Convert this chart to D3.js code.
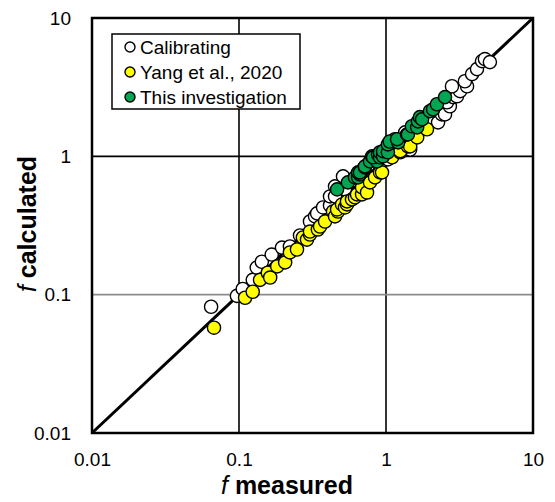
<!DOCTYPE html>
<html lang="en">
<head>
  <meta charset="UTF-8">
  <title>f calculated vs f measured</title>
  <script src="https://d3js.org/d3.v7.min.js"></script>
  <style>
    body { margin: 0; background: #fff; }
    text { font-family: "Liberation Sans", Arial, sans-serif; fill: #000; }
    .tick text { font-size: 19px; }
    .domain { display: none; }
  </style>
</head>
<body>
<div id="chart"></div>
<script>
  // tick values on both axes
  const tickValues = [0.01, 0.1, 1, 10];
  const tickLabels = ["0.01", "0.1", "1", "10"];

  // series: [f measured, f calculated]
  const calibrating = [
    [0.0646, 0.0818], [0.0968, 0.098], [0.106, 0.110], [0.124, 0.128], [0.132, 0.157],
    [0.143, 0.173], [0.167, 0.195], [0.196, 0.219], [0.222, 0.223], [0.260, 0.268],
    [0.304, 0.338], [0.329, 0.368], [0.340, 0.387], [0.373, 0.427], [0.416, 0.442],
    [0.416, 0.513], [0.450, 0.513], [0.450, 0.606], [0.510, 0.716], [0.526, 0.577],
    [0.597, 0.670], [0.665, 0.741], [0.698, 0.805], [0.755, 0.861], [0.869, 0.984],
    [1.03, 0.95], [1.15, 1.33], [1.35, 1.49], [1.46, 1.12], [1.57, 1.49], [1.70, 1.79],
    [1.84, 1.62], [1.99, 2.01], [2.06, 1.85], [2.26, 1.76], [2.40, 2.01], [2.52, 2.01],
    [2.72, 2.30], [2.60, 2.46], [2.86, 2.68], [3.04, 2.72], [3.19, 2.96], [2.81, 3.21],
    [3.56, 3.21], [3.44, 3.49], [3.85, 3.93], [4.16, 4.27], [4.50, 4.88], [4.71, 5.05],
    [5.09, 4.80]
  ];
  const yang2020 = [
    [0.0676, 0.0577], [0.110, 0.095], [0.124, 0.105], [0.139, 0.128], [0.157, 0.144],
    [0.163, 0.133], [0.182, 0.160], [0.206, 0.171], [0.222, 0.202], [0.248, 0.212],
    [0.272, 0.259], [0.290, 0.250], [0.304, 0.272], [0.304, 0.286], [0.344, 0.296],
    [0.356, 0.311], [0.385, 0.338], [0.436, 0.399], [0.450, 0.368], [0.471, 0.399],
    [0.465, 0.413], [0.502, 0.449], [0.526, 0.427], [0.543, 0.449], [0.543, 0.472],
    [0.587, 0.488], [0.615, 0.505], [0.635, 0.531], [0.687, 0.531], [0.687, 0.596],
    [0.743, 0.548], [0.778, 0.648], [0.842, 0.705], [0.910, 0.766], [0.940, 0.766],
    [1.10, 0.984], [1.25, 1.07], [1.25, 1.09], [1.41, 1.18], [1.46, 1.18], [1.63, 1.37],
    [1.90, 1.57]
  ];
  const thisInvestigation = [
    [0.465, 0.577], [0.551, 0.648], [0.615, 0.705], [0.646, 0.705], [0.665, 0.741],
    [0.646, 0.766], [0.665, 0.766], [0.719, 0.832], [0.719, 0.847], [0.778, 0.92],
    [0.869, 0.92], [0.804, 1.0], [0.817, 0.984], [0.883, 1.03], [0.910, 0.984],
    [0.910, 1.07], [0.955, 1.0], [0.955, 1.09], [1.03, 1.07], [1.03, 1.22], [1.06, 1.28],
    [1.21, 1.26], [1.19, 1.33], [1.39, 1.44], [1.41, 1.44], [1.50, 1.65], [1.63, 1.62],
    [1.65, 1.79], [1.70, 1.92], [1.76, 1.85], [1.99, 2.12], [2.09, 2.19], [2.22, 2.38],
    [2.52, 2.68]
  ];

  const series = [
    { name: "Calibrating", data: calibrating, color: "#ffffff" },
    { name: "Yang et al., 2020", data: yang2020, color: "#ffff00" },
    { name: "This investigation", data: thisInvestigation, color: "#00a651" }
  ];

  const width = 555, height = 502;
  const plot = { left: 92, right: 533, top: 18, bottom: 433 };

  const svg = d3.select("#chart").append("svg")
    .attr("width", width)
    .attr("height", height);

  const x = d3.scaleLog().domain([0.01, 10]).range([plot.left, plot.right]);
  const y = d3.scaleLog().domain([0.01, 10]).range([plot.bottom, plot.top]);

  // grid lines
  svg.append("g").selectAll("line")
    .data([0.1, 1])
    .enter().append("line")
    .attr("x1", d => x(d)).attr("x2", d => x(d))
    .attr("y1", plot.top).attr("y2", plot.bottom)
    .attr("stroke", "#000").attr("stroke-width", 1.6);

  svg.append("g").selectAll("line")
    .data([0.1, 1])
    .enter().append("line")
    .attr("x1", plot.left).attr("x2", plot.right)
    .attr("y1", d => y(d)).attr("y2", d => y(d))
    .attr("stroke", d => d === 1 ? "#000" : "#8c8c8c")
    .attr("stroke-width", 1.6);

  // 1:1 line
  svg.append("line")
    .attr("x1", x(0.01)).attr("y1", y(0.01))
    .attr("x2", x(10)).attr("y2", y(10))
    .attr("stroke", "#000").attr("stroke-width", 3);

  // points
  series.forEach(s => {
    svg.append("g").selectAll("circle")
      .data(s.data)
      .enter().append("circle")
      .attr("cx", d => x(d[0]))
      .attr("cy", d => y(d[1]))
      .attr("r", 6.6)
      .attr("fill", s.color)
      .attr("stroke", "#000")
      .attr("stroke-width", 1.4);
  });

  // frame
  svg.append("rect")
    .attr("x", plot.left).attr("y", plot.top)
    .attr("width", plot.right - plot.left)
    .attr("height", plot.bottom - plot.top)
    .attr("fill", "none").attr("stroke", "#000").attr("stroke-width", 2.5);

  // axes
  const fmt = d => tickLabels[tickValues.indexOf(d)];
  svg.append("g")
    .attr("transform", `translate(0,${plot.bottom})`)
    .call(d3.axisBottom(x).tickValues(tickValues).tickFormat(fmt).tickSize(0).tickPadding(20));
  svg.append("g")
    .attr("transform", `translate(${plot.left},0)`)
    .call(d3.axisLeft(y).tickValues(tickValues).tickFormat(fmt).tickSize(0).tickPadding(21));

  // axis titles
  const xt = svg.append("text")
    .attr("x", 287).attr("y", 494)
    .attr("text-anchor", "middle")
    .style("font-size", "25px").style("font-weight", "bold");
  xt.append("tspan").style("font-style", "italic").style("font-weight", "normal").text("f");
  xt.append("tspan").text(" measured");

  const yt = svg.append("text")
    .attr("transform", "translate(36,224) rotate(-90)")
    .attr("text-anchor", "middle")
    .style("font-size", "25px").style("font-weight", "bold");
  yt.append("tspan").style("font-style", "italic").style("font-weight", "normal").text("f");
  yt.append("tspan").text(" calculated");

  // legend
  const legend = svg.append("g");
  legend.append("rect")
    .attr("x", 112).attr("y", 34).attr("width", 188).attr("height", 75)
    .attr("fill", "#fff").attr("stroke", "#000").attr("stroke-width", 1.5);
  series.forEach((s, i) => {
    const cy = 47 + i * 25;
    legend.append("circle")
      .attr("cx", 130).attr("cy", cy).attr("r", 5)
      .attr("fill", s.color).attr("stroke", "#000").attr("stroke-width", 1.4);
    legend.append("text")
      .attr("x", 140).attr("y", cy + 7)
      .style("font-size", "19px")
      .text(s.name);
  });
</script>
</body>
</html>
